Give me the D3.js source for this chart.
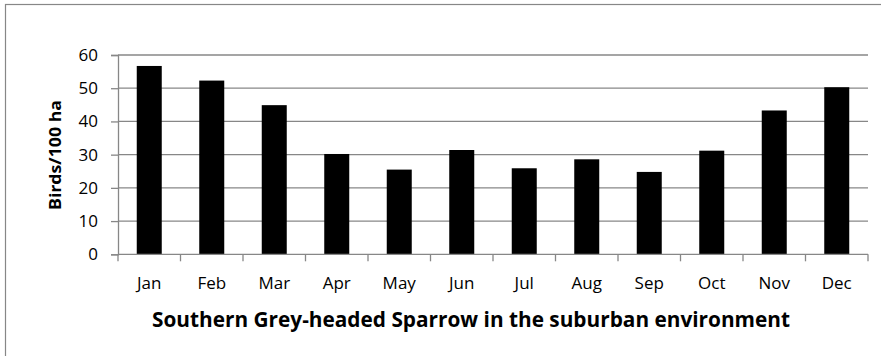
<!DOCTYPE html>
<html>
<head>
<meta charset="utf-8">
<script src="https://cdn.jsdelivr.net/npm/d3@7"></script>
<style>
  body { margin: 0; background: #fff; }
  svg { display: block; }
  text { font-family: "Open Sans", "Liberation Sans", sans-serif; fill: #000; }
</style>
</head>
<body>
<svg id="chart" width="881" height="356"></svg>
<script>
// month categories and bird densities
var months = ["Jan", "Feb", "Mar", "Apr", "May", "Jun", "Jul", "Aug", "Sep", "Oct", "Nov", "Dec"];
var birds = [56.7, 52.3, 44.9, 30.2, 25.5, 31.4, 25.9, 28.6, 24.8, 31.2, 43.3, 50.3];
var yTicks = [0, 10, 20, 30, 40, 50, 60];
var yTitle = "Birds/100 ha";
var chartTitle = "Southern Grey-headed Sparrow in the suburban environment";

var svg = d3.select("#chart");
var plotLeft = 118, plotRight = 868, plotTop = 55, plotBottom = 254.3;

// outer chart border
svg.append("rect")
    .attr("x", 5.5).attr("y", 4.5)
    .attr("width", 890).attr("height", 400)
    .attr("fill", "none").attr("stroke", "#878787").attr("stroke-width", 1.2);

var x = d3.scaleBand().domain(months).range([plotLeft, plotRight]).paddingInner(0.6).paddingOuter(0.3);
var xb = d3.scaleBand().domain(months).range([plotLeft, plotRight]);
var y = d3.scaleLinear().domain([0, 60]).range([plotBottom, plotTop]);

// gridlines
svg.append("g").selectAll("line")
    .data(yTicks.filter(function(d) { return d > 0; }))
    .enter().append("line")
    .attr("x1", plotLeft).attr("x2", plotRight)
    .attr("y1", function(d) { return y(d); })
    .attr("y2", function(d) { return y(d); })
    .attr("stroke", "#878787").attr("stroke-width", 1.3);

// bars
svg.append("g").selectAll("rect")
    .data(birds)
    .enter().append("rect")
    .attr("x", function(d, i) { return x(months[i]); })
    .attr("width", x.bandwidth())
    .attr("y", function(d) { return y(d); })
    .attr("height", function(d) { return y(0) - y(d); })
    .attr("fill", "#000");

// y axis
var yAxis = svg.append("g").attr("transform", "translate(" + plotLeft + ",0)")
    .call(d3.axisLeft(y).tickValues(yTicks).tickSize(7).tickPadding(13));
yAxis.select(".domain").attr("stroke", "#878787").attr("stroke-width", 1.3);
yAxis.selectAll(".tick line").attr("stroke", "#878787").attr("stroke-width", 1.3);
yAxis.selectAll(".tick text")
    .style("font-family", "'Open Sans', sans-serif")
    .attr("font-size", 17).attr("fill", "#000");

// x axis: ticks at band boundaries
svg.append("line")
    .attr("x1", plotLeft).attr("x2", plotRight)
    .attr("y1", plotBottom).attr("y2", plotBottom)
    .attr("stroke", "#878787").attr("stroke-width", 1.3);
var bounds = months.map(function(m) { return xb(m); }).concat([plotRight]);
svg.append("g").selectAll("line")
    .data(bounds)
    .enter().append("line")
    .attr("x1", function(d) { return d; }).attr("x2", function(d) { return d; })
    .attr("y1", plotBottom).attr("y2", plotBottom + 7)
    .attr("stroke", "#878787").attr("stroke-width", 1.3);
svg.append("g").selectAll("text")
    .data(months)
    .enter().append("text")
    .attr("x", function(d) { return xb(d) + xb.bandwidth() / 2; })
    .attr("y", 289)
    .attr("text-anchor", "middle")
    .attr("font-size", 17)
    .text(function(d) { return d; });

// axis titles
svg.append("text")
    .attr("transform", "translate(61,155) rotate(-90)")
    .attr("text-anchor", "middle")
    .attr("font-size", 16).attr("font-weight", "bold")
    .attr("textLength", 110).attr("lengthAdjust", "spacingAndGlyphs")
    .text(yTitle);

svg.append("text")
    .attr("x", 152).attr("y", 327)
    .attr("font-size", 21).attr("font-weight", "bold")
    .attr("textLength", 638).attr("lengthAdjust", "spacingAndGlyphs")
    .text(chartTitle);
</script>
</body>
</html>
